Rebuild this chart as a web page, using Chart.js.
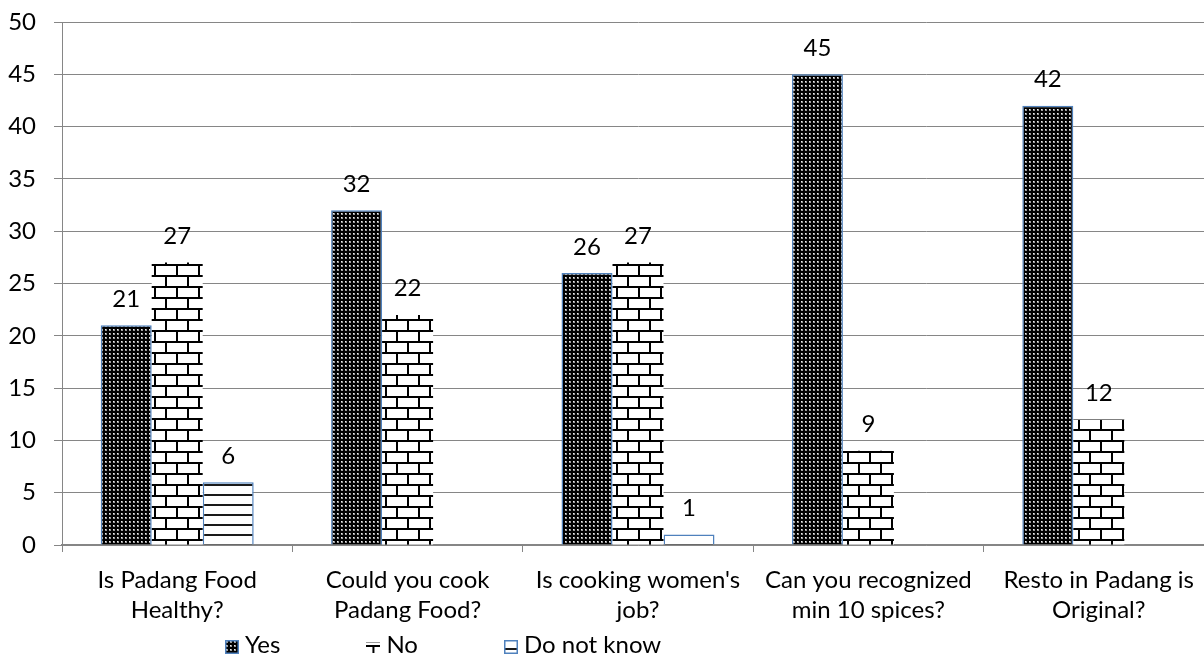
<!DOCTYPE html>
<html>
<head>
<meta charset="utf-8">
<script src="https://cdn.jsdelivr.net/npm/chart.js@4/dist/chart.umd.min.js"></script>
<style>
  html, body { margin: 0; padding: 0; background: #fff; overflow: hidden; }
  #wrap { width: 1220px; height: 657px; }
</style>
</head>
<body>
<div id="wrap"><canvas id="c" width="1220" height="657"></canvas></div>
<script>
// Survey questions (x-axis categories, split over two lines)
const categories = [
  ["Is Padang Food", "Healthy?"],
  ["Could you cook", "Padang Food?"],
  ["Is cooking women's", "job?"],
  ["Can you recognized", "min 10 spices?"],
  ["Resto in Padang is", "Original?"]
];
const seriesNames = ["Yes", "No", "Do not know"];

// Answer counts per question
const yesValues = [21, 32, 26, 45, 42];
const noValues = [27, 22, 27, 9, 12];
const dontKnowValues = [6, null, 1, null, null];

// Value axis range and step
const yMin = 0;
const yMax = 50;
const yStep = 5;

const FONT = 'Lato, "Open Sans", sans-serif';
const GRID = '#868686';
const EDGE = '#4f81bd';

// --- fill patterns -------------------------------------------------------
function tile(w, h, paint) {
  const c = document.createElement('canvas');
  c.width = w; c.height = h;
  paint(c.getContext('2d'), w, h);
  return c;
}

// dark dotted weave
const dotTile = tile(4, 4, (g) => {
  g.fillStyle = '#000'; g.fillRect(0, 0, 4, 4);
  g.fillStyle = '#9a9a9a'; g.fillRect(1, 1, 2, 2);
  g.fillStyle = '#f0f0f0'; g.fillRect(1, 1, 1, 1);
});

// brick wall
const brickTile = tile(22, 22, (g) => {
  g.fillStyle = '#fff'; g.fillRect(0, 0, 22, 22);
  g.fillStyle = '#000';
  g.fillRect(0, 0, 22, 2);
  g.fillRect(0, 11, 22, 2);
  g.fillRect(0, 0, 2, 13);
  g.fillRect(11, 11, 2, 11);
});

// horizontal stripes
const stripeTile = tile(4, 10, (g) => {
  g.fillStyle = '#fff'; g.fillRect(0, 0, 4, 10);
  g.fillStyle = '#1a1a1a'; g.fillRect(0, 4, 4, 2);
});

const canvas = document.getElementById('c');
const ctx = canvas.getContext('2d');
const dotFill = ctx.createPattern(dotTile, 'repeat');
const brickFill = ctx.createPattern(brickTile, 'repeat');
const stripeFill = ctx.createPattern(stripeTile, 'repeat');

// --- legend swatches -----------------------------------------------------
function swatch(kind) {
  return tile(14, 14, (g) => {
    g.fillStyle = '#fff'; g.fillRect(0, 0, 14, 14);
    if (kind === 0) {
      g.fillStyle = g.createPattern(dotTile, 'repeat');
      g.fillRect(0, 0, 14, 14);
      g.strokeStyle = EDGE; g.lineWidth = 1.5; g.strokeRect(0.75, 0.75, 12.5, 12.5);
    } else if (kind === 1) {
      g.fillStyle = '#9a9a9a'; g.fillRect(0, 2, 14, 1);
      g.fillStyle = '#000'; g.fillRect(0, 5, 14, 2);
      g.fillRect(6, 5, 2, 8);
    } else {
      g.fillStyle = '#1a1a1a'; g.fillRect(1, 8, 12, 2);
      g.strokeStyle = EDGE; g.lineWidth = 1.5; g.strokeRect(0.75, 0.75, 12.5, 12.5);
    }
  });
}
const swatches = [swatch(0), swatch(1), swatch(2)];

// --- plugins -------------------------------------------------------------
const valueLabels = {
  id: 'valueLabels',
  afterDatasetsDraw(chart) {
    const c = chart.ctx;
    c.save();
    c.font = '24px ' + FONT;
    c.fillStyle = '#000';
    c.textAlign = 'center';
    c.textBaseline = 'alphabetic';
    chart.data.datasets.forEach((ds, i) => {
      chart.getDatasetMeta(i).data.forEach((bar, j) => {
        const v = ds.data[j];
        if (v === null || v === undefined) return;
        c.fillText(String(v), bar.x, bar.y - 18.5);
      });
    });
    c.restore();
  }
};

const bottomLegend = {
  id: 'bottomLegend',
  afterDraw(chart) {
    const c = chart.ctx;
    c.save();
    c.font = '24px ' + FONT;
    c.fillStyle = '#000';
    c.textAlign = 'left';
    c.textBaseline = 'alphabetic';
    let x = 225;
    const boxTop = 640;
    const baseline = 653;
    chart.data.datasets.forEach((ds, i) => {
      c.drawImage(swatches[i], x, boxTop);
      x += 14 + 6;
      c.fillText(ds.label, x, baseline);
      x += c.measureText(ds.label).width + 86;
    });
    c.restore();
  }
};

function build() {
  new Chart(canvas, {
    type: 'bar',
    data: {
      labels: categories,
      datasets: [
        { label: seriesNames[0], data: yesValues, backgroundColor: dotFill,
          borderColor: EDGE, borderWidth: 1.5 },
        { label: seriesNames[1], data: noValues, backgroundColor: brickFill,
          borderWidth: 0 },
        { label: seriesNames[2], data: dontKnowValues, backgroundColor: stripeFill,
          borderColor: EDGE, borderWidth: 1.5 }
      ]
    },
    options: {
      responsive: false,
      animation: false,
      events: [],
      layout: { padding: { top: 22, right: 6, left: 0, bottom: 0 } },
      datasets: { bar: { categoryPercentage: 0.664, barPercentage: 1 } },
      plugins: { legend: { display: false }, tooltip: { enabled: false } },
      scales: {
        x: {
          grid: { offset: true, drawOnChartArea: false, drawTicks: true,
                  tickLength: 7, color: GRID, lineWidth: 1 },
          border: { color: GRID, width: 1.5 },
          ticks: { font: { family: FONT, size: 24, lineHeight: 1.23 }, color: '#000',
                   padding: 14, maxRotation: 0, autoSkip: false },
          afterFit(s) { s.height = 112; }
        },
        y: {
          min: yMin, max: yMax,
          grid: { color: GRID, lineWidth: 1, tickLength: 8 },
          border: { color: GRID, width: 1 },
          ticks: { stepSize: yStep, font: { family: FONT, size: 24 }, color: '#000', padding: 18 },
          afterFit(s) { s.width = 62; s.paddingTop = 0; s.paddingBottom = 0; }
        }
      }
    },
    plugins: [valueLabels, bottomLegend]
  });
}

if (document.fonts && document.fonts.load) {
  document.fonts.load('24px Lato').then(build, build);
} else {
  build();
}
</script>
</body>
</html>
